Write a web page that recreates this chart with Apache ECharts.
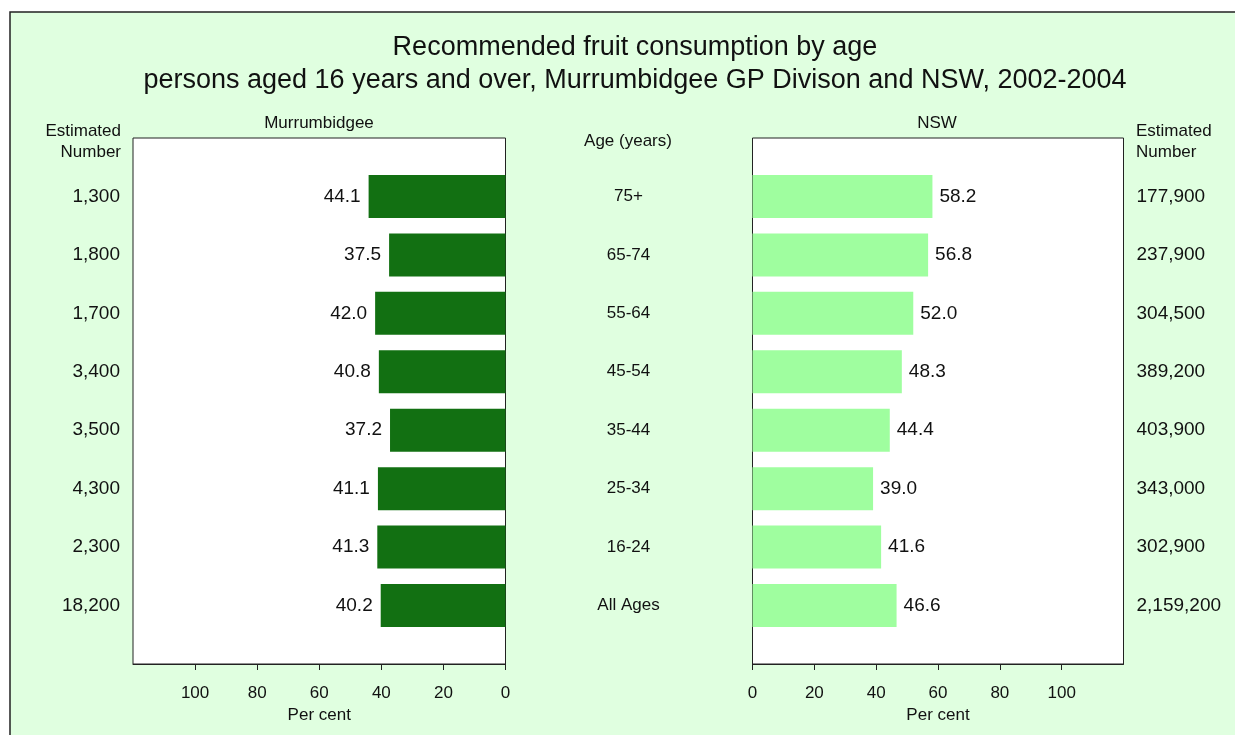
<!DOCTYPE html>
<html>
<head>
<meta charset="utf-8">
<script src="https://cdn.jsdelivr.net/npm/echarts@6/dist/echarts.min.js"></script>
<style>
  html, body { margin: 0; padding: 0; background: #fff; }
  #chart { width: 1235px; height: 735px; }
</style>
</head>
<body>
<div id="chart"></div>
<script>
// age groups, top to bottom
var ages = ['75+', '65-74', '55-64', '45-54', '35-44', '25-34', '16-24', 'All Ages'];
// per cent meeting recommended fruit consumption
var murrPct = [44.1, 37.5, 42.0, 40.8, 37.2, 41.1, 41.3, 40.2];
var nswPct = [58.2, 56.8, 52.0, 48.3, 44.4, 39.0, 41.6, 46.6];
// estimated numbers
var murrNum = [1300, 1800, 1700, 3400, 3500, 4300, 2300, 18200];
var nswNum = [177900, 237900, 304500, 389200, 403900, 343000, 302900, 2159200];
var pctTicks = [0, 20, 40, 60, 80, 100];

var font = 'Liberation Sans, Arial, sans-serif';
var ink = '#111';

// empty slot at top and bottom so bars sit on ticks
function padCats(arr) { return [''].concat(arr, [' ']); }
function padVals(arr) { return [null].concat(arr, [null]); }
function fmt(n) { return n.toLocaleString('en-US'); }

var chart = echarts.init(document.getElementById('chart'));

function pctAxis(grid, inverse) {
    return {
        type: 'value', gridIndex: grid, min: 0, max: 120, interval: 20, inverse: inverse,
        splitLine: { show: false },
        axisLine: { show: true, lineStyle: { color: '#222' } },
        axisTick: { show: true, length: 6, customValues: pctTicks, lineStyle: { color: '#222' } },
        axisLabel: { customValues: pctTicks, margin: 21, fontSize: 17, color: ink, fontFamily: font },
        name: 'Per cent', nameLocation: 'middle', nameGap: 36,
        nameTextStyle: { fontSize: 17, color: ink, fontFamily: font }
    };
}

function catAxis(grid, data, pos, label) {
    return {
        type: 'category', gridIndex: grid, data: data, position: pos, inverse: true,
        boundaryGap: false,
        axisLine: { show: false }, axisTick: { show: false },
        axisLabel: Object.assign({ interval: 0, fontFamily: font, color: ink }, label)
    };
}

var option = {
    backgroundColor: '#fff',
    animation: false,
    title: {
        text: 'Recommended fruit consumption by age\npersons aged 16 years and over, Murrumbidgee GP Divison and NSW, 2002-2004',
        left: 630, top: 26, textAlign: 'center',
        textStyle: { fontSize: 27, fontWeight: 'normal', color: ink, fontFamily: font, lineHeight: 33 }
    },
    graphic: [
        { type: 'rect', z: -10, shape: { x: 10, y: 12, width: 1300, height: 800 },
          style: { fill: '#e0ffe0', stroke: '#222', lineWidth: 1.5 } },
        { type: 'text', x: 319, y: 123, style: { text: 'Murrumbidgee', align: 'center', verticalAlign: 'middle', fontSize: 17, fill: ink, fontFamily: font } },
        { type: 'text', x: 937, y: 123, style: { text: 'NSW', align: 'center', verticalAlign: 'middle', fontSize: 17, fill: ink, fontFamily: font } },
        { type: 'text', x: 628, y: 141, style: { text: 'Age (years)', align: 'center', verticalAlign: 'middle', fontSize: 17, fill: ink, fontFamily: font } },
        { type: 'text', x: 121, y: 142, style: { text: 'Estimated\nNumber', align: 'right', verticalAlign: 'middle', lineHeight: 21, fontSize: 17, fill: ink, fontFamily: font } },
        { type: 'text', x: 1136, y: 142, style: { text: 'Estimated\nNumber', align: 'left', verticalAlign: 'middle', lineHeight: 21, fontSize: 17, fill: ink, fontFamily: font } }
    ],
    grid: [
        { left: 133, top: 138, width: 372.5, height: 526, show: true, backgroundColor: '#fff', borderColor: '#222', borderWidth: 1 },
        { left: 752.5, top: 138, width: 371, height: 526, show: true, backgroundColor: '#fff', borderColor: '#222', borderWidth: 1 }
    ],
    xAxis: [pctAxis(0, true), pctAxis(1, false)],
    yAxis: [
        catAxis(0, padCats(murrNum.map(fmt)), 'left', { margin: 13, fontSize: 19 }),
        catAxis(0, padCats(ages), 'right', { margin: 123, align: 'center', fontSize: 17 }),
        catAxis(1, padCats(nswNum.map(fmt)), 'right', { margin: 13, fontSize: 19 })
    ],
    series: [
        {
            name: 'Murrumbidgee', type: 'bar', xAxisIndex: 0, yAxisIndex: 0,
            data: padVals(murrPct), barWidth: 43,
            itemStyle: { color: '#127012' },
            label: { show: true, position: 'left', distance: 8, fontSize: 19, color: ink, fontFamily: font,
                     formatter: function (p) { return p.value.toFixed(1); } }
        },
        {
            name: 'NSW', type: 'bar', xAxisIndex: 1, yAxisIndex: 2,
            data: padVals(nswPct), barWidth: 43,
            itemStyle: { color: '#9ffe9f' },
            label: { show: true, position: 'right', distance: 7, fontSize: 19, color: ink, fontFamily: font,
                     formatter: function (p) { return p.value.toFixed(1); } }
        }
    ]
};

chart.setOption(option);
</script>
</body>
</html>
